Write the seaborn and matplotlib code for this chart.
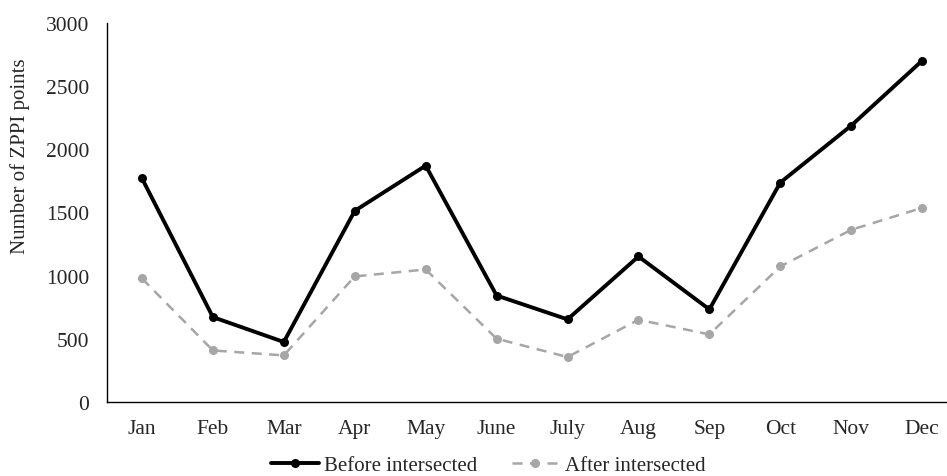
import pandas as pd
import seaborn as sns
import matplotlib.pyplot as plt

months = ['Jan', 'Feb', 'Mar', 'Apr', 'May', 'June', 'July', 'Aug', 'Sep', 'Oct', 'Nov', 'Dec']
before = [1770, 672, 475, 1513, 1871, 843, 654, 1152, 733, 1737, 2188, 2702]
after = [978, 408, 369, 994, 1049, 501, 356, 651, 535, 1073, 1363, 1537]

sns.set_style('white')
plt.rcParams['font.family'] = ['Liberation Serif', 'DejaVu Serif']

fig = plt.figure(figsize=(9.47, 4.77), dpi=100)
ax = fig.add_axes([106.5 / 947, 74 / 477, (947 - 106.5) / 947, 379 / 477])

df = pd.DataFrame({'month': months, 'before': before, 'after': after})

sns.lineplot(data=df, x='month', y='before', ax=ax, color='black', linewidth=2.8,
             marker='o', markersize=6.5, markeredgewidth=0, label='Before intersected', sort=False)
sns.lineplot(data=df, x='month', y='after', ax=ax, color='#a6a6a6', linewidth=1.8,
             linestyle=(0, (4, 3)), marker='o', markersize=6.5, markeredgewidth=0,
             label='After intersected', sort=False)

ax.set_xlim(-0.5, 11.35)
ax.set_ylim(0, 3000)
ax.set_yticks(range(0, 3001, 500))
ax.set_xlabel('')
ax.set_ylabel('Number of ZPPI points', fontsize=15)
ax.yaxis.set_label_coords(-0.091, 0.652)
ax.tick_params(axis='both', labelsize=15.5, length=0, pad=12.5)

for s in ['top', 'right']:
    ax.spines[s].set_visible(False)
ax.spines['left'].set_color('black')
ax.spines['bottom'].set_color('black')
ax.spines['left'].set_linewidth(1.0)
ax.spines['bottom'].set_linewidth(1.0)

ax.legend(loc='center', bbox_to_anchor=(488 / 947, 11 / 477), bbox_transform=fig.transFigure,
          ncol=2, frameon=False, fontsize=15, handlelength=2.3, columnspacing=1.65,
          handletextpad=0.25)

fig.savefig('out.png', dpi=100)
